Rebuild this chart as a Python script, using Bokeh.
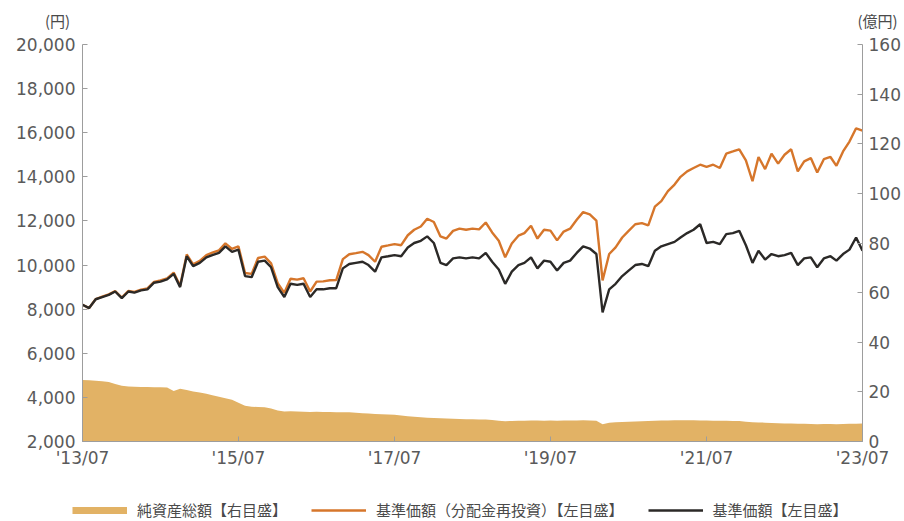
import pandas as pd
from bokeh.plotting import figure
from bokeh.layouts import column
from bokeh.models import (Range1d, LinearAxis, FixedTicker, NumeralTickFormatter,
                          DatetimeTickFormatter, Legend, LegendItem)
from bokeh.core.properties import value
from bokeh.embed import file_html
from bokeh.resources import INLINE

# Month-start observations, July 2013 - July 2023
months = pd.date_range("2013-07-01", "2023-07-01", freq="MS")

# 基準価額 (円)
nav = [
    8200, 8050, 8450, 8550, 8650, 8800, 8500, 8800, 8750, 8850,
    8900, 9200, 9250, 9350, 9600, 9000, 10400, 9950, 10100, 10350,
    10450, 10550, 10850, 10600, 10700, 9500, 9450, 10150, 10200, 9900,
    9000, 8550, 9150, 9100, 9150, 8550, 8900, 8900, 8950, 8950,
    9850, 10050, 10100, 10150, 10000, 9700, 10350, 10400, 10450, 10400,
    10800, 11000, 11100, 11300, 11000, 10100, 10000, 10300, 10350, 10300,
    10350, 10300, 10550, 10150, 9800, 9150, 9700, 10000, 10100, 10350,
    9850, 10200, 10150, 9750, 10100, 10200, 10550, 10850, 10750, 10500,
    7850, 8900, 9150, 9500, 9750, 10000, 10050, 9950, 10650, 10850,
    10950, 11050, 11250, 11450, 11600, 11850, 11000, 11050, 10950, 11400,
    11450, 11550, 10900, 10100, 10650, 10250, 10500, 10400, 10450, 10550,
    10000, 10300, 10350, 9900, 10300, 10400, 10200, 10500, 10700, 11250,
    10650,
]

# 基準価額(分配金再投資) (円)
nav_reinvested = [
    8200, 8050, 8460, 8570, 8670, 8820, 8520, 8830, 8780, 8880,
    8940, 9240, 9300, 9400, 9660, 9060, 10480, 10030, 10190, 10450,
    10560, 10670, 10980, 10730, 10850, 9640, 9600, 10320, 10380, 10080,
    9180, 8740, 9380, 9340, 9400, 8800, 9250, 9260, 9310, 9320,
    10270, 10490, 10540, 10600, 10450, 10150, 10830, 10890, 10950, 10900,
    11350, 11600, 11750, 12100, 11950, 11300, 11200, 11550, 11650, 11600,
    11650, 11620, 11930, 11480, 11100, 10350, 10980, 11330, 11450, 11780,
    11200, 11600, 11560, 11120, 11520, 11650, 12050, 12400, 12300, 12020,
    9300, 10500, 10800, 11250, 11550, 11850, 11900, 11800, 12650, 12900,
    13350, 13650, 14000, 14250, 14400, 14550, 14450, 14550, 14400, 15050,
    15150, 15250, 14750, 13800, 14900, 14350, 15050, 14600, 15000, 15250,
    14250, 14700, 14850, 14200, 14800, 14900, 14500, 15150, 15600, 16200,
    16100,
]

# 純資産総額 (億円)
net_assets = [
    24.8, 24.7, 24.5, 24.3, 24.0, 23.2, 22.5, 22.2, 22.1, 22.0,
    22.0, 21.9, 21.9, 21.8, 20.4, 21.3, 20.8, 20.2, 19.7, 19.2,
    18.6, 18.0, 17.4, 16.8, 15.6, 14.4, 14.0, 13.9, 13.8, 13.3,
    12.5, 12.1, 12.2, 12.1, 12.0, 11.9, 12.0, 11.9, 11.9, 11.8,
    11.8, 11.8, 11.6, 11.4, 11.3, 11.1, 11.0, 10.9, 10.8, 10.5,
    10.2, 10.0, 9.8, 9.6, 9.5, 9.4, 9.3, 9.2, 9.1, 9.0,
    9.0, 8.9, 8.9, 8.7, 8.4, 8.2, 8.3, 8.4, 8.4, 8.5,
    8.5, 8.4, 8.5, 8.4, 8.5, 8.5, 8.5, 8.6, 8.5, 8.4,
    7.0, 7.6, 7.8, 7.9, 8.0, 8.1, 8.2, 8.3, 8.4, 8.5,
    8.5, 8.6, 8.6, 8.6, 8.6, 8.5, 8.5, 8.4, 8.4, 8.4,
    8.3, 8.3, 8.0, 7.8, 7.7, 7.6, 7.5, 7.4, 7.3, 7.3,
    7.2, 7.2, 7.1, 7.0, 7.1, 7.1, 7.0, 7.1, 7.2, 7.2,
    7.3,
]

x_tick_dates = ["2013-07-01", "2015-07-01", "2017-07-01",
                "2019-07-01", "2021-07-01", "2023-07-01"]
left_ticks = [2000, 4000, 6000, 8000, 10000, 12000, 14000, 16000, 18000, 20000]
right_ticks = [0, 20, 40, 60, 80, 100, 120, 140, 160]
unit_labels = ["(円)", "(億円)"]
series_labels = ["純資産総額【右目盛】", "基準価額（分配金再投資）【左目盛】", "基準価額【左目盛】"]

AREA = "#e2b265"
ORANGE = "#d6762b"
DARK = "#2b2927"
AXIS = "#9d9d9d"
TEXT = "#4a4a4a"
NUM_FONT = "DejaVu Sans"
JP_FONT = "Noto Sans CJK JP"
W, H = 904, 521
HEAD_H, FOOT_H = 30, 40
LINE_W = 2.4


def ms(d):
    return pd.Timestamp(d).value / 1e6


def strip(height):
    """Bare figure whose frame fills the whole canvas (1 unit = 1 px)."""
    f = figure(width=W, height=height, x_range=Range1d(0, W), y_range=Range1d(0, height),
               x_axis_location=None, y_axis_location=None,
               output_backend="svg", toolbar_location=None, min_border=0)
    f.frame_align = False
    f.outline_line_color = None
    f.grid.visible = False
    return f


x0, x1 = ms(x_tick_dates[0]), ms(x_tick_dates[-1])

# --- unit captions above both value axes
head = strip(HEAD_H)
head.text(x=[57, 877], y=[HEAD_H - 20, HEAD_H - 20], text=unit_labels,
          text_align="center", text_baseline="middle",
          text_font=value(JP_FONT), text_font_size="15px", text_color=TEXT)

# --- main chart
p = figure(width=W, height=H - HEAD_H - FOOT_H, x_axis_type="datetime",
           x_range=Range1d(x0, x1), y_range=Range1d(left_ticks[0], left_ticks[-1]),
           output_backend="svg", toolbar_location=None,
           min_border_left=82, min_border_right=42,
           min_border_top=44 - HEAD_H, min_border_bottom=80 - FOOT_H)
p.frame_align = False
p.extra_y_ranges = {"assets": Range1d(right_ticks[0], right_ticks[-1])}
p.outline_line_color = None
p.grid.visible = False

p.varea(x=months, y1=0, y2=net_assets, fill_color=AREA, y_range_name="assets")
p.line(x=months, y=nav_reinvested, line_color=ORANGE, line_width=LINE_W)
p.line(x=months, y=nav, line_color=DARK, line_width=LINE_W)

right_axis = LinearAxis(y_range_name="assets")
p.add_layout(right_axis, "right")

for ax in [p.xaxis[0], p.yaxis[0], right_axis]:
    ax.axis_line_color = AXIS
    ax.major_tick_line_color = AXIS
    ax.major_tick_in = 5
    ax.major_tick_out = 0
    ax.minor_tick_line_color = None
    ax.major_label_text_font = NUM_FONT
    ax.major_label_text_font_size = "17px"
    ax.major_label_text_color = "#5a5a5a"

p.xaxis[0].ticker = FixedTicker(ticks=[ms(d) for d in x_tick_dates])
fmt = "'%y/%m"
p.xaxis[0].formatter = DatetimeTickFormatter(
    milliseconds=fmt, seconds=fmt, minsec=fmt, minutes=fmt, hourmin=fmt,
    hours=fmt, days=fmt, months=fmt, years=fmt)
p.xaxis[0].major_label_standoff = 6

p.yaxis[0].ticker = FixedTicker(ticks=left_ticks)
p.yaxis[0].formatter = NumeralTickFormatter(format="0,0")
p.yaxis[0].major_label_standoff = 7

right_axis.ticker = FixedTicker(ticks=right_ticks)
right_axis.major_label_standoff = 6

# --- legend strip; its keys take their style from series drawn outside the view
foot = strip(FOOT_H)
k_area = foot.line(x=months, y=net_assets, line_color=AREA, line_width=7)
k_orange = foot.line(x=months, y=nav_reinvested, line_color=ORANGE, line_width=LINE_W)
k_dark = foot.line(x=months, y=nav, line_color=DARK, line_width=LINE_W)

legend = Legend(
    items=[LegendItem(label=series_labels[0], renderers=[k_area]),
           LegendItem(label=series_labels[1], renderers=[k_orange]),
           LegendItem(label=series_labels[2], renderers=[k_dark])],
    orientation="horizontal", location=(72, 1),
    border_line_color=None, background_fill_alpha=0,
    padding=0, margin=0, spacing=24,
    glyph_width=55, glyph_height=20, label_standoff=10, label_height=20,
    label_text_font=JP_FONT, label_text_font_size="15px", label_text_color=TEXT,
)
foot.add_layout(legend)

open("out.html", "w").write(file_html(column(head, p, foot, spacing=0), INLINE))
